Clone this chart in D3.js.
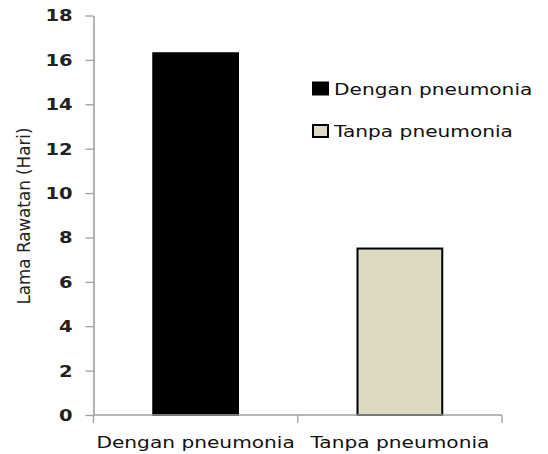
<!DOCTYPE html>
<html>
<head>
<meta charset="utf-8">
<script src="https://cdn.jsdelivr.net/npm/d3@7"></script>
<style>
  html, body { margin: 0; padding: 0; background: #fff; }
  svg text { font-family: "DejaVu Sans", Verdana, sans-serif; }
</style>
</head>
<body>
<svg id="chart" width="548" height="454"></svg>
<script>
const categories = ["Dengan pneumonia", "Tanpa pneumonia"];
const values = [16.3, 7.5];
const seriesNames = ["Dengan pneumonia", "Tanpa pneumonia"];
const colors = ["#000000", "#DDD9C3"];
const yTicks = [0, 2, 4, 6, 8, 10, 12, 14, 16, 18];
const yLabel = "Lama Rawatan (Hari)";

const W = 548, H = 454;
const m = { left: 93.5, right: 46, top: 15.5, bottom: 39 };
const svg = d3.select("#chart");
const SX = 1.3; // horizontal stretch seen in reference text

const x = d3.scaleBand().domain(categories)
  .range([m.left, W - m.right])
  .paddingInner(0.585).paddingOuter(0.585 / 2);
const y = d3.scaleLinear().domain([0, 18]).range([H - m.bottom, m.top]);

// bars
svg.append("g").selectAll("rect").data(categories).join("rect")
  .attr("x", d => x(d))
  .attr("y", (d, i) => y(values[i]))
  .attr("width", x.bandwidth())
  .attr("height", (d, i) => y(0) - y(values[i]))
  .attr("fill", (d, i) => colors[i])
  .attr("stroke", "#000")
  .attr("stroke-width", 2);

// y axis
const yAxis = svg.append("g")
  .attr("transform", `translate(${m.left},0)`)
  .call(d3.axisLeft(y).tickValues(yTicks).tickSize(8).tickSizeOuter(0).tickFormat(d3.format("d")));
yAxis.select(".domain").attr("stroke", "#a0a0a0").attr("stroke-width", 1.6);
yAxis.selectAll(".tick line").attr("stroke", "#a0a0a0").attr("stroke-width", 1.3);
yAxis.selectAll(".tick text")
  .attr("x", 0).attr("dy", "0.36em")
  .attr("transform", `translate(-21,0) scale(${SX},1)`)
  .attr("fill", "#222")
  .attr("font-size", 15)
  .attr("font-weight", 600)
  .attr("font-family", "DejaVu Sans, sans-serif");

// x axis
const xAxisG = svg.append("g").attr("transform", `translate(0,${y(0)})`);
xAxisG.append("line")
  .attr("x1", m.left).attr("x2", W - m.right)
  .attr("stroke", "#a0a0a0").attr("stroke-width", 1.3);
const step = x.step();
const bounds = d3.range(categories.length + 1).map(i => m.left + i * step);
xAxisG.selectAll("line.tk").data(bounds).join("line")
  .attr("class", "tk")
  .attr("x1", d => d).attr("x2", d => d)
  .attr("y1", 0).attr("y2", 8)
  .attr("stroke", "#a0a0a0").attr("stroke-width", 1.3);
svg.append("g").selectAll("text").data(categories).join("text")
  .attr("transform", d => `translate(${x(d) + x.bandwidth() / 2},448) scale(${SX},1)`)
  .attr("text-anchor", "middle")
  .attr("font-size", 15.5)
  .attr("fill", "#111")
  .text(d => d);

// y label
svg.append("text")
  .attr("transform", `translate(30,216) scale(${SX},1) rotate(-90)`)
  .attr("text-anchor", "middle")
  .attr("font-size", 13.5)
  .attr("fill", "#222")
  .attr("textLength", 177)
  .attr("lengthAdjust", "spacingAndGlyphs")
  .text(yLabel);

// legend
const leg = svg.append("g");
const legY = [88.5, 131];
seriesNames.forEach((s, i) => {
  leg.append("rect")
    .attr("x", 313).attr("y", legY[i] - 6)
    .attr("width", 15).attr("height", 12)
    .attr("fill", colors[i]).attr("stroke", "#000").attr("stroke-width", 2);
  leg.append("text")
    .attr("transform", `translate(334,${legY[i] + 6}) scale(${SX},1)`)
    .attr("font-size", 15.5)
    .attr("fill", "#111")
    .text(s);
});
</script>
</body>
</html>
